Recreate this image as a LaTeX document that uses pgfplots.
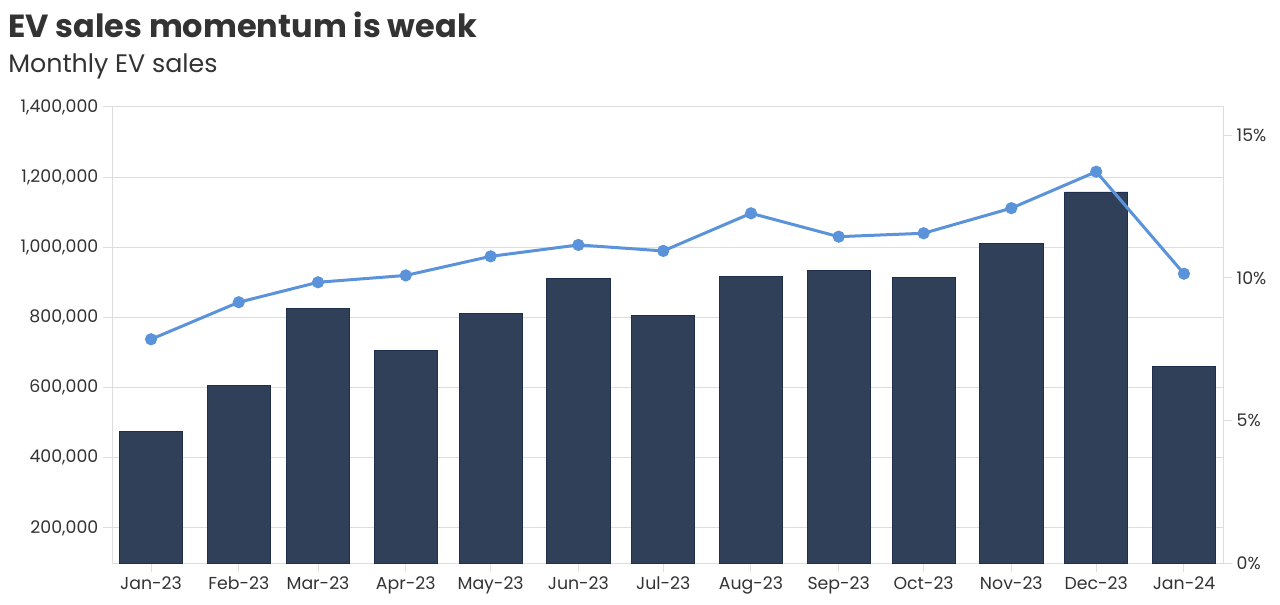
\documentclass[border=0pt]{standalone}
\usepackage{pgfplots}
\pgfplotsset{compat=1.18}
\usepackage{fontspec}
\setmainfont{Poppins}
\definecolor{barc}{HTML}{2F4058}
\definecolor{barline}{HTML}{1F2E4A}
\definecolor{linec}{HTML}{5B93DB}
\definecolor{gridc}{HTML}{DDDDDD}
\definecolor{txt}{HTML}{333333}
\begin{document}
\begin{tikzpicture}[x=1pt,y=1pt]
\path[use as bounding box] (0,0) rectangle (960,453);
\node[anchor=base west, inner sep=0, text=txt, font=\fontsize{24}{28}\selectfont\bfseries] at (6,424.5) {EV sales momentum is weak};
\node[anchor=base west, inner sep=0, text=txt, font=\fontsize{19}{22}\selectfont] at (6,398.25) {Monthly EV sales};
\pgfplotsset{
  common/.style={
    at={(84pt,30.75pt)}, anchor=south west, scale only axis,
    width=833.25pt, height=342pt,
    xmin=-13.8, xmax=378.8,
    tick label style={font=\fontsize{13}{15}\selectfont, text=txt},
    /pgf/number format/assume math mode=true,
    tick align=outside, major tick length=6.75pt,
    tick style={gridc, line width=0.75pt},
    axis line style={gridc, line width=0.75pt},
  }
}
\begin{axis}[common,
  ymin=100000, ymax=1400000,
  ytick={200000,400000,600000,800000,1000000,1200000,1400000},
  ymajorgrids, grid style={gridc, line width=0.75pt},
  scaled y ticks=false,
  yticklabel style={/pgf/number format/.cd, fixed, 1000 sep={,}},
  xtick={0,31,59,90,120,151,181,212,243,273,304,334,365},
  xticklabels={Jan-23,Feb-23,Mar-23,Apr-23,May-23,Jun-23,Jul-23,Aug-23,Sep-23,Oct-23,Nov-23,Dec-23,Jan-24},
  xtick pos=bottom, ytick pos=left,
]
\addplot[ybar, bar width=22.3, fill=barc, draw=barline, line width=0.5pt] coordinates {
(0,475000) (31,606000) (59,826000) (90,706000) (120,811000) (151,912000)
(181,807000) (212,918000) (243,933000) (273,914000) (304,1012000) (334,1158000) (365,660000)};
\end{axis}
\begin{axis}[common,
  ymin=0, ymax=16,
  axis y line*=right, axis x line=none,
  ytick={0,5,10,15},
  yticklabel={\pgfmathprintnumber{\tick}\%},
]
\addplot[linec, line width=2.25pt, mark=*, mark size=3.4pt, mark options={fill=linec, draw=linec}] coordinates {
(0,7.85) (31,9.15) (59,9.85) (90,10.09) (120,10.76) (151,11.16)
(181,10.95) (212,12.27) (243,11.45) (273,11.57) (304,12.45) (334,13.73) (365,10.15)};
\end{axis}
\end{tikzpicture}
\end{document}
